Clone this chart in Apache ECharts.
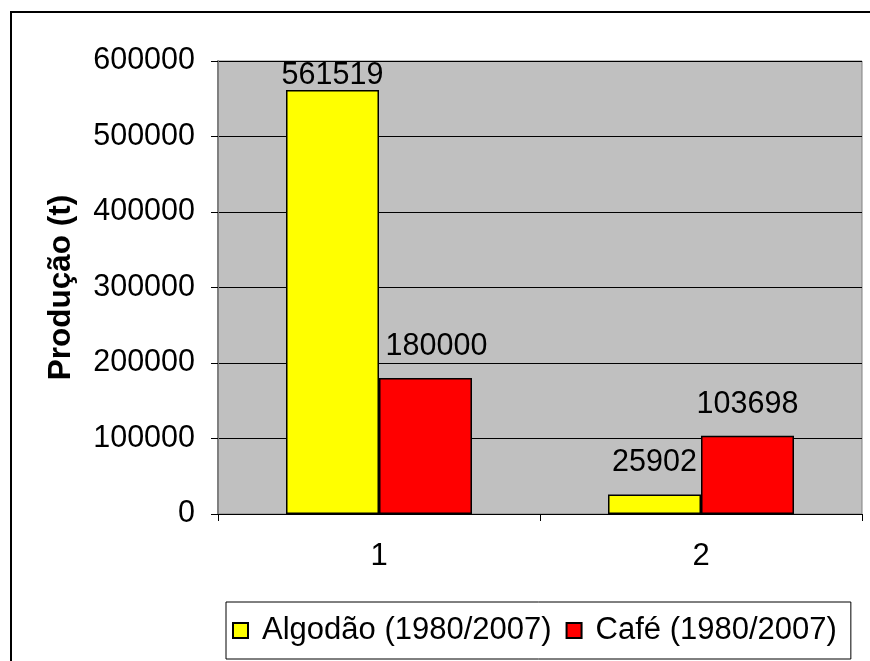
<!DOCTYPE html>
<html>
<head>
<meta charset="utf-8">
<script src="https://cdn.jsdelivr.net/npm/echarts@6/dist/echarts.min.js"></script>
<style>
  html, body { margin: 0; padding: 0; background: #fff; }
  #chart { width: 870px; height: 661px; }
</style>
</head>
<body>
<div id="chart"></div>
<script>
const categories = ['1', '2'];
const algodao = [561519, 25902];
const cafe = [180000, 103698];
const yTicks = [0, 100000, 200000, 300000, 400000, 500000, 600000];

const font = 'Liberation Sans, Arial, sans-serif';

const chart = echarts.init(document.getElementById('chart'));

let option = {
  backgroundColor: '#fff',
  animation: false,
  textStyle: { fontFamily: font },
  // outer chart frame, only left and top edges are inside the picture
  graphic: [{
    type: 'polyline',
    z: -10,
    shape: { points: [[11, 700], [11, 12], [900, 12]] },
    style: { fill: 'none', stroke: '#000', lineWidth: 2 }
  }],
  grid: {
    left: 218, right: 8, top: 61, bottom: 147,
    show: true,
    backgroundColor: '#c0c0c0',
    borderColor: '#808080',
    borderWidth: 1
  },
  legend: {
    left: 226, top: 602,
    orient: 'horizontal',
    borderColor: '#000',
    borderWidth: 1,
    padding: [13, 14, 13, 6],
    itemWidth: 15,
    itemHeight: 15,
    itemGap: 14,
    icon: 'rect',
    textStyle: { fontSize: 31, color: '#000', fontFamily: font, padding: [0, 0, 0, 9] },
    data: ['Algodão (1980/2007)', 'Café (1980/2007)']
  },
  xAxis: {
    type: 'category',
    data: categories,
    axisLine: { lineStyle: { color: '#000', width: 1 } },
    axisTick: { show: true, length: 7, lineStyle: { color: '#000' } },
    axisLabel: { fontSize: 31, color: '#000', margin: 27, fontFamily: font }
  },
  yAxis: {
    type: 'value',
    min: 0, max: 600000, interval: 100000,
    name: 'Produção (t)',
    nameLocation: 'middle',
    nameGap: 141,
    nameTextStyle: { fontSize: 31.5, fontWeight: 'bold', color: '#000', fontFamily: font },
    axisLine: { show: true, lineStyle: { color: '#808080', width: 2 } },
    axisTick: { show: true, length: 7, lineStyle: { color: '#000' } },
    axisLabel: {
      fontSize: 30.5, color: '#000', margin: 23, fontFamily: font,
      formatter: v => yTicks.includes(v) ? String(v) : ''
    },
    splitLine: { lineStyle: { color: '#000', width: 1 } }
  },
  series: [
    {
      name: 'Algodão (1980/2007)',
      type: 'bar',
      barWidth: 93,
      barGap: '0%',
      itemStyle: { color: '#ffff00', borderColor: '#000', borderWidth: 1.5 },
      label: { show: true, position: 'top', distance: 16, fontSize: 30.5, color: '#000', fontFamily: font },
      data: algodao.map((v, i) => i === 0
        ? { value: v, label: { offset: [0, 17] } }
        : v)
    },
    {
      name: 'Café (1980/2007)',
      type: 'bar',
      barWidth: 93,
      barGap: '0%',
      itemStyle: { color: '#ff0000', borderColor: '#000', borderWidth: 1.5 },
      label: { show: true, position: 'top', distance: 16, fontSize: 30.5, color: '#000', fontFamily: font },
      data: cafe.map((v, i) => i === 0
        ? { value: v, label: { offset: [11, 0] } }
        : v)
    }
  ]
};

chart.setOption(option, true);
</script>
</body>
</html>
